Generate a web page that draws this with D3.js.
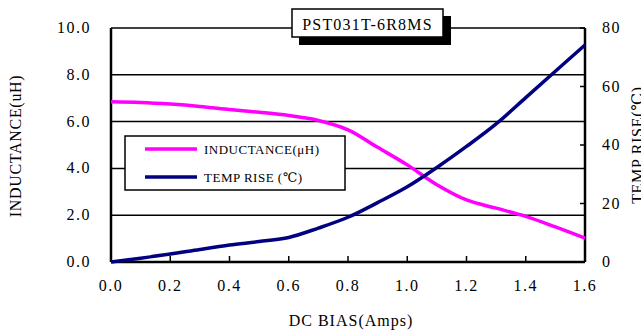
<!DOCTYPE html>
<html>
<head>
<meta charset="utf-8">
<script src="https://cdn.jsdelivr.net/npm/d3@7"></script>
<style>
  body { margin: 0; background: #fff; }
  text { font-family: "Liberation Serif", "DejaVu Serif", serif; fill: #000; }
</style>
</head>
<body>
<div id="chart-area"></div>
<script>
// Data
var dcBias = [0.0, 0.1, 0.2, 0.3, 0.4, 0.5, 0.6, 0.7, 0.8, 0.9, 1.0, 1.1, 1.2, 1.3, 1.4, 1.5, 1.6];
var inductance = [6.85, 6.82, 6.75, 6.65, 6.52, 6.4, 6.26, 6.05, 5.65, 4.9, 4.15, 3.3, 2.65, 2.3, 1.95, 1.5, 1.02];
var tempRise = [0, 1.3, 2.7, 4.3, 5.8, 7.0, 8.4, 11.6, 15.3, 20.3, 25.7, 32.3, 39.5, 47.2, 56.2, 65.2, 74.2];
var xTicks = [0, 0.2, 0.4, 0.6, 0.8, 1.0, 1.2, 1.4, 1.6];
var yLeftTicks = [0, 2, 4, 6, 8, 10];
var yRightTicks = [0, 20, 40, 60, 80];
var seriesNames = ["INDUCTANCE(\u03BCH)", "TEMP  RISE (\u2103)"];
var seriesColors = ["#ff00ff", "#000080"];
var chartTitle = "PST031T-6R8MS";

var W = 641, H = 334;
var margin = { left: 111, right: 56, top: 28, bottom: 72 },
    width = W - margin.left - margin.right,
    height = H - margin.top - margin.bottom;

var svg = d3.select("#chart-area").append("svg")
    .attr("width", W)
    .attr("height", H);
var g = svg.append("g")
    .attr("transform", "translate(" + margin.left + "," + margin.top + ")");

// Scales
var x = d3.scaleLinear().domain([0, 1.6]).range([0, width]);
var yL = d3.scaleLinear().domain([0, 10]).range([height, 0]);
var yR = d3.scaleLinear().domain([0, 80]).range([height, 0]);

// Gridlines
g.selectAll(".grid").data(yLeftTicks.filter(function(d){ return d > 0; }))
    .enter().append("line")
    .attr("x1", 0).attr("x2", width)
    .attr("y1", function(d){ return yL(d); })
    .attr("y2", function(d){ return yL(d); })
    .attr("stroke", "#000").attr("stroke-width", 1.5);

// Bottom inner ticks
g.selectAll(".xtick").data(xTicks)
    .enter().append("line")
    .attr("x1", function(d){ return x(d); })
    .attr("x2", function(d){ return x(d); })
    .attr("y1", height).attr("y2", height - 6)
    .attr("stroke", "#000").attr("stroke-width", 1.5);

// Right inner ticks
g.selectAll(".rtick").data(yRightTicks)
    .enter().append("line")
    .attr("x1", width).attr("x2", width - 5)
    .attr("y1", function(d){ return yR(d); })
    .attr("y2", function(d){ return yR(d); })
    .attr("stroke", "#000").attr("stroke-width", 1.5);

// Frame
g.append("line").attr("x1", 0).attr("x2", 0).attr("y1", 0).attr("y2", height)
    .attr("stroke", "#000").attr("stroke-width", 2.5);
g.append("line").attr("x1", width).attr("x2", width).attr("y1", 0).attr("y2", height)
    .attr("stroke", "#000").attr("stroke-width", 2.5);
g.append("line").attr("x1", 0).attr("x2", width).attr("y1", height).attr("y2", height)
    .attr("stroke", "#000").attr("stroke-width", 2.5);

// Tick labels
g.selectAll(".xlab").data(xTicks)
    .enter().append("text")
    .attr("x", function(d){ return x(d); })
    .attr("y", height + 29)
    .attr("text-anchor", "middle")
    .attr("font-size", "16px")
    .attr("letter-spacing", "1.5px")
    .text(function(d){ return d3.format(".1f")(d); });

g.selectAll(".ylab").data(yLeftTicks)
    .enter().append("text")
    .attr("x", -20)
    .attr("y", function(d){ return yL(d) + 5; })
    .attr("text-anchor", "end")
    .attr("font-size", "16px")
    .attr("letter-spacing", "1.5px")
    .text(function(d){ return d3.format(".1f")(d); });

g.selectAll(".rlab").data(yRightTicks)
    .enter().append("text")
    .attr("x", width + 17)
    .attr("y", function(d){ return yR(d) + 5; })
    .attr("text-anchor", "start")
    .attr("font-size", "16px")
    .attr("letter-spacing", "1.5px")
    .text(function(d){ return d; });

// Axis titles
svg.append("text")
    .attr("x", margin.left + width / 2 + 3)
    .attr("y", 326)
    .attr("text-anchor", "middle")
    .attr("font-size", "16px")
    .attr("letter-spacing", "1px")
    .text("DC BIAS(Amps)");
svg.append("text")
    .attr("transform", "translate(21,146) rotate(-90)")
    .attr("text-anchor", "middle")
    .attr("font-size", "16px")
    .attr("letter-spacing", "0.7px")
    .text("INDUCTANCE(uH)");
svg.append("text")
    .attr("transform", "translate(643,145) rotate(-90)")
    .attr("text-anchor", "middle")
    .attr("font-size", "16px")
    .attr("letter-spacing", "0.7px")
    .text("TEMP RISE(\u2103)");

// Lines
var pts = dcBias.map(function(d, i){ return { x: d, l: inductance[i], t: tempRise[i] }; });
var lineL = d3.line().curve(d3.curveCatmullRom.alpha(0.5))
    .x(function(d){ return x(d.x); })
    .y(function(d){ return yL(d.l); });
var lineT = d3.line().curve(d3.curveCatmullRom.alpha(0.5))
    .x(function(d){ return x(d.x); })
    .y(function(d){ return yR(d.t); });
g.append("path").attr("d", lineL(pts))
    .attr("fill", "none").attr("stroke", seriesColors[0]).attr("stroke-width", 3.5);
g.append("path").attr("d", lineT(pts))
    .attr("fill", "none").attr("stroke", seriesColors[1]).attr("stroke-width", 3.5);

// Legend
var leg = svg.append("g");
leg.append("rect")
    .attr("x", 125).attr("y", 136).attr("width", 220).attr("height", 54)
    .attr("fill", "#fff").attr("stroke", "#000").attr("stroke-width", 1.5);
seriesNames.forEach(function(name, i){
    var ly = 149 + i * 28;
    leg.append("line")
        .attr("x1", 145).attr("x2", 197).attr("y1", ly).attr("y2", ly)
        .attr("stroke", seriesColors[i]).attr("stroke-width", 3.5);
    leg.append("text")
        .attr("x", 204).attr("y", ly + 5)
        .attr("font-size", "13px")
        .attr("letter-spacing", "0.5px")
        .text(name);
});

// Title box with shadow
svg.append("rect")
    .attr("x", 299).attr("y", 16).attr("width", 152).attr("height", 29)
    .attr("fill", "#000");
svg.append("rect")
    .attr("x", 292).attr("y", 9).attr("width", 151).attr("height", 28)
    .attr("fill", "#fff").attr("stroke", "#000").attr("stroke-width", 1.5);
svg.append("text")
    .attr("x", 367.5).attr("y", 30)
    .attr("text-anchor", "middle")
    .attr("font-size", "16px")
    .attr("letter-spacing", "1.2px")
    .text(chartTitle);
</script>
</body>
</html>
